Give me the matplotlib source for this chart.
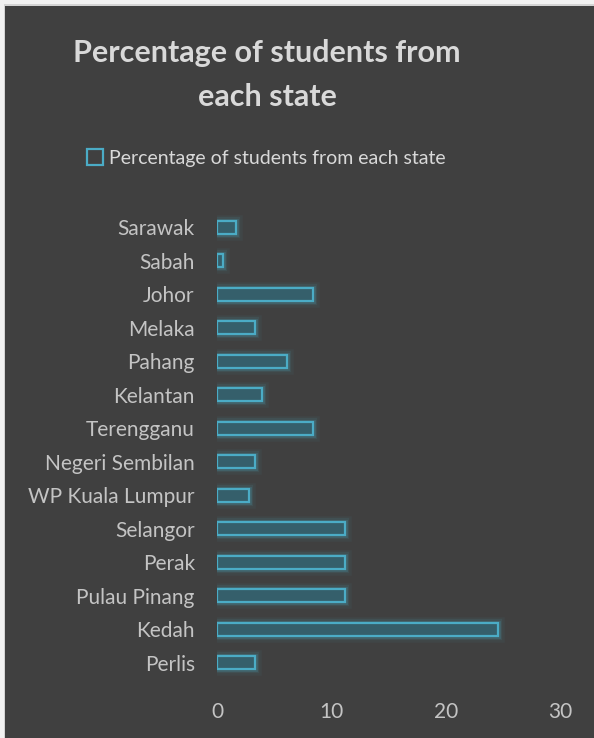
import matplotlib.pyplot as plt
import matplotlib.patheffects as pe
from matplotlib.patches import Rectangle, Patch

states = ['Perlis', 'Kedah', 'Pulau Pinang', 'Perak', 'Selangor',
          'WP Kuala Lumpur', 'Negeri Sembilan', 'Terengganu', 'Kelantan',
          'Pahang', 'Melaka', 'Johor', 'Sabah', 'Sarawak']
percent = [3.35, 24.58, 11.17, 11.17, 11.17, 2.79, 3.35, 8.38, 3.91,
           6.15, 3.35, 8.38, 0.56, 1.68]
xticks = [0, 10, 20, 30]
series_name = 'Percentage of students from each state'

bg = '#404040'
edge = '#4bacc6'
fill = '#355f6b'
txt = '#d9d9d9'

plt.rcParams['font.family'] = ['Lato', 'DejaVu Sans']

fig = plt.figure(figsize=(5.94, 7.38), dpi=100)
fig.patch.set_facecolor('#f2f2f2')
W, H = 594, 738
fig.patches.append(Rectangle((4 / W, 0), 1, 1 - 4 / H, transform=fig.transFigure,
                             facecolor='#d4d4d4', edgecolor='none', zorder=-10))
fig.patches.append(Rectangle((5 / W, 0), 1, 1 - 5.5 / H, transform=fig.transFigure,
                             facecolor=bg, edgecolor='none', zorder=-9))

ax = fig.add_axes([217 / W, 58.5 / H, 343 / W, 469 / H])
ax.set_facecolor('none')
ax.set_zorder(2)

glow = [pe.Stroke(linewidth=9, foreground=edge, alpha=0.06),
        pe.Stroke(linewidth=6, foreground=edge, alpha=0.1),
        pe.Stroke(linewidth=3.5, foreground=edge, alpha=0.2),
        pe.Normal()]
bars = ax.barh(range(len(states)), percent, height=0.38, color=fill,
               edgecolor=edge, linewidth=1.6, label=series_name)
for b in bars:
    b.set_path_effects(glow)

ax.set_xlim(0, 30)
ax.set_ylim(-0.5, len(states) - 0.5)
ax.set_yticks(range(len(states)))
ax.set_yticklabels(states)
ax.set_xticks(xticks)
ax.tick_params(axis='both', length=0, labelsize=15, colors='#c4c4c4')
ax.tick_params(axis='y', pad=16)
ax.tick_params(axis='x', pad=16)
for s in ax.spines.values():
    s.set_visible(False)

fig.text(267 / W, 1 - 53 / H, 'Percentage of students from', ha='center', va='center',
         fontsize=22, fontweight='bold', color=txt)
fig.text(267 / W, 1 - 97 / H, 'each state', ha='center', va='center',
         fontsize=22, fontweight='bold', color=txt)

handle = Patch(facecolor='none', edgecolor=edge, linewidth=1.6)
fig.legend([handle], [series_name], loc='center', bbox_to_anchor=(266 / W, 1 - 158 / H),
           frameon=False, fontsize=14, labelcolor=txt, handlelength=0.85,
           handleheight=0.85, handletextpad=0.3)

fig.savefig('out.png', dpi=100, facecolor=fig.get_facecolor())
